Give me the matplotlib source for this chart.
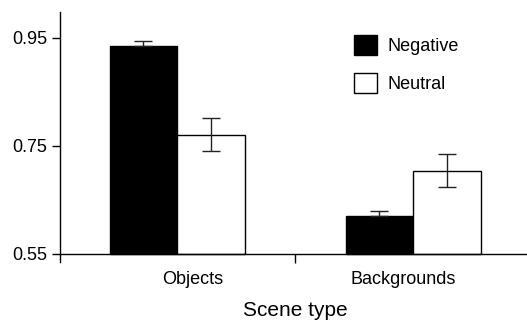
import numpy as np
import matplotlib.pyplot as plt
from matplotlib.patches import Patch

plt.rcParams['font.family'] = ['Liberation Sans', 'DejaVu Sans']

# data
scene_types = ["Objects", "Backgrounds"]
conditions = ["Negative", "Neutral"]
negative_mean = [0.935, 0.620]
negative_err = [0.010, 0.010]
neutral_mean = [0.771, 0.704]
neutral_err = [0.030, 0.031]
y_ticks = [0.55, 0.75, 0.95]
label_x = [0.068, 0.958]   # where the group names sit

W, H = 527, 321
fig = plt.figure(figsize=(W / 100, H / 100), dpi=100)
ax = fig.add_axes([60 / W, (H - 262) / H, 467 / W, 250 / H])

x = np.arange(len(scene_types))
width = 0.286
ekw = dict(ecolor="#222222", elinewidth=1.0, capsize=6.5, capthick=1.0)
# lower half of the negative error bars is hidden inside the black bars
ax.bar(x - width / 2, np.array(negative_mean) - 0.55, width, bottom=0.55,
       color="black", edgecolor="black", linewidth=1.0,
       yerr=[np.zeros(len(negative_err)), negative_err],
       error_kw=ekw, zorder=2)
ax.bar(x + width / 2, np.array(neutral_mean) - 0.55, width, bottom=0.55,
       color="white", edgecolor="black", linewidth=1.0, yerr=neutral_err,
       error_kw=ekw, zorder=2)

ax.set_xlim(-0.496, 1.483)
ax.set_ylim(0.535, 0.998)

for s in ["top", "right"]:
    ax.spines[s].set_visible(False)
ax.spines["bottom"].set_position(("data", 0.55))
ax.spines["left"].set_linewidth(1.0)
ax.spines["bottom"].set_linewidth(1.0)

ax.set_yticks(y_ticks)
ax.set_yticklabels(["%.2f" % v for v in y_ticks], fontsize=13)
ax.tick_params(axis="y", length=6, width=1.0, pad=3)

# one separator tick between groups, names on minor ticks without marks
ax.set_xticks([0.5])
ax.set_xticklabels([""])
ax.tick_params(axis="x", which="major", length=6.5, width=1.0)
ax.set_xticks(label_x, minor=True)
ax.set_xticklabels(scene_types, minor=True, fontsize=13)
ax.tick_params(axis="x", which="minor", length=0, pad=12)

fig.text(295 / W, 1 - 311 / H, "Scene type", ha="center", va="center", fontsize=15)

handles = [Patch(facecolor="black", edgecolor="black"),
           Patch(facecolor="white", edgecolor="black")]
fig.legend(handles, conditions, loc="upper left",
           bbox_to_anchor=(354 / W, 1 - 35 / H), frameon=False, fontsize=13,
           handlelength=1.28, handleheight=1.3, handletextpad=0.55,
           labelspacing=1.0, borderpad=0, borderaxespad=0)

fig.savefig("out.png", dpi=100)
